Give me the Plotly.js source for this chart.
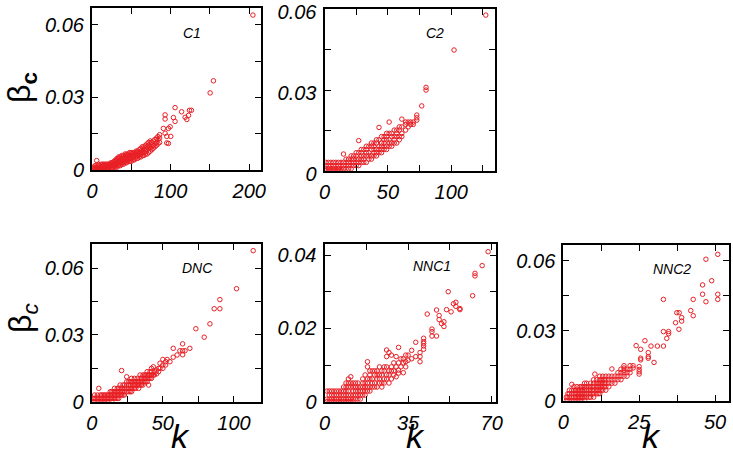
<!DOCTYPE html>
<html>
<head>
<meta charset="utf-8">
<script src="https://cdn.plot.ly/plotly-3.0.1.min.js"></script>
<style>html,body{margin:0;padding:0;background:#fff;}#chart{width:733px;height:457px;}</style>
</head>
<body>
<div id="chart"></div>
<script>
// ---- data: k values and, for each k, the beta_c values seen ----
const C1_k = [2,4,6,8,10,12,14,16,18,20,22,24,26,28,30,32,34,36,38,40,42,44,46,48,50,52,54,56,58,60,62,64,66,68,70,72,74,76,78,80,82,84,86,90.8,93,95.1,97.2,99.4,100.2,103.6,105.7,114,118.5,120.6,122.8,124,126.5,150.3,154.5,204.7];
const C1_beta = [
 [0,0.0006,0.0012],[0,0.0006,0.0012,0.0018],[0,0.0012,0.0039],[0,0.0006,0.0018,0.0024],[0,0.0006,0.0012,0.0018],
 [0,0.0006,0.0012,0.0024],[0,0.0006,0.0018,0.0024],[0,0.0006,0.0012,0.0018,0.0024],[0,0.0012,0.0024],[0,0.0006,0.0012,0.0018,0.0024],
 [0.0006,0.0012,0.0018,0.0024],[0.0006,0.0018,0.0024,0.003],[0.0006,0.0012,0.0024,0.003],[0.0012,0.0018,0.003,0.0036],[0.0012,0.0018,0.0024,0.0036,0.0042],
 [0.0012,0.0024,0.003,0.0042,0.0048],[0.0018,0.0024,0.0036,0.0048,0.0054],[0.0018,0.003,0.0036,0.0042,0.0054],[0.0024,0.003,0.0042,0.0048,0.006],[0.0024,0.0036,0.0042,0.0054,0.006],
 [0.003,0.0036,0.0048,0.0054,0.0066],[0.003,0.0042,0.0048,0.006,0.0066],[0.0036,0.0042,0.0054,0.006,0.0066],[0.0036,0.0048,0.0054,0.006,0.0072],[0.0036,0.0048,0.006,0.0066,0.0072],
 [0.0042,0.0054,0.006,0.0072],[0.0042,0.0054,0.0066,0.0072],[0.0048,0.006,0.0066,0.0078],[0.0048,0.006,0.0072,0.0078],[0.0054,0.0066,0.0072,0.0084],
 [0.0054,0.0066,0.0078,0.009],[0.006,0.0072,0.0084,0.0096],[0.006,0.0072,0.0084,0.0096],[0.0066,0.0078,0.009,0.0102],[0.0066,0.0084,0.0096,0.0108],
 [0.0072,0.009,0.0102,0.0114],[0.0078,0.009,0.0108,0.012],[0.0084,0.0096,0.0114],[0.009,0.0102,0.012],[0.0096,0.0108,0.0126],
 [0.0102,0.0114,0.0132],[0.0108,0.0126,0.0138],[0.0114,0.0132,0.0146],[0.0172],[0.0152,0.0211,0.0228],
 [0.0112,0.0139],[0.011,0.0172],[0.0179],[0.0139],[0.0217],[0.0201,0.0258],[0.0241],[0.0218],[0.0209],[0.0226],[0.0247],[0.0247],[0.0319],[0.0369],[0.0641]
];

const C2_k = [1,3,5,7,9,11,13,15,17,19,21,23,25,27,29,31,33,35,37,39,41,43,45,47,49,51,53,55,57,59,61,64,66,68,70,72.8,76.7,80.1,102.2,127.2];
const C2_beta = [
 [0,0.0007,0.0019,0.0031],[0,0.0007,0.0019,0.0031],[0,0.0007,0.0019,0.0031],[0,0.0007,0.0019,0.0031],[0,0.0007,0.0019,0.0031],
 [0,0.0007,0.0019,0.0031],[0,0.0007,0.0019,0.0031],[0.0007,0.0019,0.0031,0.0062],[0.0007,0.0019,0.0031,0.0043],[0.0007,0.0019,0.0031,0.0043],
 [0.0007,0.0019,0.0031,0.0043,0.0055],[0.0019,0.0031,0.0043,0.0055],[0.0019,0.0031,0.0043,0.0055,0.0067],[0.0019,0.0031,0.0043,0.0067,0.0112],[0.0031,0.0043,0.0055,0.0067,0.0079],
 [0.0031,0.0043,0.0055,0.0079],[0.0031,0.0055,0.0067,0.0079,0.0091],[0.0043,0.0055,0.0067,0.0091],[0.0043,0.0055,0.0079,0.0091,0.0103],[0.0055,0.0067,0.0079,0.0091,0.0103],
 [0.0055,0.0067,0.0079,0.0103,0.0115],[0.0067,0.0079,0.0091,0.0115,0.0161],[0.0067,0.0079,0.0091,0.0103,0.0127],[0.0079,0.0091,0.0103,0.0115,0.0127],[0.0079,0.0091,0.0115,0.0127,0.0139],
 [0.0091,0.0103,0.0115,0.0139,0.0181],[0.0091,0.0103,0.0127,0.0139],[0.0103,0.0115,0.0127,0.0151],[0.0103,0.0127,0.0139,0.0151],[0.0115,0.0127,0.0151,0.0163],
 [0.0127,0.0139,0.0163,0.0192],[0.0151,0.0172,0.0181],[0.0163,0.0181],[0.0172,0.0181],[0.0172,0.0181],
 [0.0188,0.0197,0.0207],[0.0241],[0.030,0.031],[0.0449],[0.0579]
];

const DNC_k = [1,2,3,4,5,6,7,8,9,10,11,12,13,14,15,16,17,18,19,20,21,22,23,24.6,26,27,28,29,30,31,32,33,34,35,36,37,38,39,40,41,42,43.3,44,45.6,47,48,50,52,53,55,57.3,60,62,63.9,65.6,69,73.2,79.1,83.1,86.1,90.1,101.8,113.5];
const DNC_beta = [
 [0,0.0015],[0,0.0015,0.003],[0,0.0015],[0,0.0015,0.003],[0,0.0015,0.006],[0,0.0015,0.003],[0,0.0015,0.003],[0,0.0015,0.003],
 [0,0.0015,0.003],[0,0.0015,0.003],[0,0.0015,0.003],[0,0.0015,0.003],[0.0015,0.003,0.0045],[0,0.0015,0.003,0.0045],[0.0015,0.003,0.0045],
 [0.0015,0.003,0.0045,0.006],[0.0015,0.003,0.0045],[0.0015,0.003,0.0045,0.006],[0.0015,0.003,0.0045,0.006],[0.003,0.0045,0.006,0.0075],
 [0.003,0.0045,0.006,0.014],[0.003,0.0045,0.006,0.0075],[0.003,0.0045,0.006,0.0075],[0.0045,0.006,0.0075,0.009,0.0112],[0.0045,0.006,0.0075,0.009],
 [0.0045,0.006,0.0075,0.009],[0.0045,0.006,0.009,0.0105],[0.006,0.0075,0.009],[0.006,0.0075,0.009,0.0105],[0.006,0.0075,0.009],
 [0.0075,0.009,0.0105],[0.006,0.0075,0.009],[0.0075,0.009,0.0105,0.012],[0.0075,0.009,0.0105],[0.0075,0.009,0.0105,0.012],
 [0.009,0.0105,0.012],[0.009,0.0105,0.012],[0.009,0.0105,0.012,0.0135],[0.0075,0.0105,0.012],[0.0105,0.012,0.0135],
 [0.0105,0.012,0.0135,0.015],[0.012,0.0157],[0.012,0.0135],[0.0125,0.0142],[0.0135,0.015],[0.015,0.0173],
 [0.015,0.0165,0.019],[0.0165,0.018],[0.019],[0.018],[0.02,0.024],[0.021],[0.0229],[0.0211,0.0229,0.026],[0.0229],[0.024],
 [0.0328],[0.029],[0.035],[0.0418],[0.0418,0.0459],[0.0508],[0.0679]
];

const NNC1_k = [1,2,3,4,5,6,7,8,9,10,11,12,13,14,15,16,17,18,19,20,21,22,23,24,25,26,27,28,29,30,31,32,33,34,35,36.5,38.2,40,41.5,43,45,46.9,48,49,50,51.1,51.8,53,54,55,56.7,62,63,66,68.5];
const NNC1_beta = [
 [0,0.0007,0.0029],[0,0.0007,0.0018,0.0029],[0,0.0007,0.0018,0.0029],[0,0.0007,0.0018,0.0029],[0,0.0007,0.0018,0.0029],
 [0,0.0007,0.0018,0.0029],[0,0.0007,0.0018,0.0029],[0,0.0007,0.0018,0.0029,0.004],[0,0.0007,0.0018,0.0029,0.004,0.0051],[0,0.0007,0.0018,0.0029,0.004,0.0051,0.0062],
 [0,0.0007,0.0018,0.004,0.0051,0.0068],[0,0.0007,0.0018,0.0029,0.004,0.0051],[0.0007,0.0018,0.0029,0.004,0.0051],[0.0007,0.0018,0.0029,0.004,0.0051],[0.0007,0.0018,0.0029,0.004],
 [0.0018,0.0029,0.004,0.0051,0.0062],[0.0018,0.0029,0.004,0.0051,0.0073],[0.0029,0.004,0.0051,0.0062,0.0095,0.0109],[0.0029,0.004,0.0062,0.0073,0.0084],[0.004,0.0051,0.0062,0.0084],
 [0.004,0.0051,0.0073,0.0084],[0.004,0.0062,0.0073,0.0084],[0.0051,0.0062,0.0073,0.0095],[0.004,0.0051,0.0073,0.0084],[0.0051,0.0062,0.0084,0.0095],
 [0.0062,0.0073,0.0095,0.0123,0.0141],[0.0051,0.0073,0.0084,0.0134],[0.0062,0.0084,0.0095,0.0127],[0.0073,0.0084,0.0106],[0.0068,0.0095,0.0123],
 [0.0078,0.0086,0.0106,0.0148],[0.0095,0.0117],[0.0079,0.0106,0.0117],[0.0095,0.0109,0.0127],[0.0113,0.0127],
 [0.0117,0.014],[0.0123,0.0162],[0.0109,0.0123,0.0134],[0.0143,0.0152,0.0159,0.0164,0.0173],[0.0239],
 [0.0179,0.0191,0.0198],[0.0179,0.025],[0.0224,0.0235],[0.0213],[0.0205,0.0218],[0.0251],[0.030],[0.0245],[0.0267],[0.026,0.0271],[0.0251,0.0254],
 [0.0289],[0.0343,0.035],[0.0371],[0.0409]
];

const NNC2_k = [1,1.5,2,2.8,3.5,4,4.5,5,5.5,6,6.5,7,7.7,8.5,9,9.5,10,10.4,11,11.5,12,12.5,13,13.5,14,15,16,17,18,19,20,21,22,23,24,25,25.5,26.9,28,28.9,29.9,31,33,34.1,34.7,37,37.4,38.1,38.2,39,42,42.8,45.9,47,48.9,50.9];
const NNC2_beta = [
 [0,0.0015],[0,0.0015,0.003],[0,0.0015,0.003,0.0045],[0,0.0015,0.003,0.0045,0.007],[0,0.0015,0.003,0.0045,0.006],
 [0,0.0015,0.003,0.0045],[0,0.0015,0.003,0.0045,0.006],[0,0.0015,0.003,0.0045],[0,0.0015,0.003,0.0045,0.006],[0,0.0015,0.003,0.0045,0.006],
 [0.0015,0.003,0.0045,0.006],[0,0.0015,0.003,0.0045,0.006,0.0075],[0.0015,0.003,0.0045,0.006,0.0075],[0.0015,0.003,0.0045,0.006],[0.0015,0.003,0.0045,0.006,0.0075],
 [0.003,0.0045,0.006],[0.0015,0.003,0.0045,0.006,0.0075,0.009],[0.0114],[0.003,0.0045,0.006,0.0075,0.009],[0.003,0.0045,0.006,0.0075],
 [0.003,0.0045,0.006,0.0075,0.009,0.0105],[0.0045,0.006,0.0075,0.009],[0.0045,0.006,0.0075,0.009,0.0105],[0.006,0.0075,0.009],[0.0045,0.006,0.0075,0.009,0.0105],
 [0.006,0.0075,0.009,0.0105],[0.0075,0.009,0.0105,0.0136],[0.0075,0.009,0.0105],[0.009,0.0105,0.012],[0.009,0.0105,0.012,0.0135],
 [0.0105,0.012,0.013,0.014,0.015],[0.0105,0.012,0.0135],[0.012,0.0135,0.015],[0.014,0.015],[0.0236],
 [0.0114,0.0124,0.0134,0.0146],[0.0175,0.0182,0.022],[0.0257],[0.0182,0.0189,0.0206],[0.0234],[0.0164],[0.0234],[0.0234,0.0296,0.0434],[0.0267],[0.0287,0.0296],
 [0.0334],[0.0377],[0.0306],[0.0377],[0.0341,0.0356],[0.0386],[0.0364,0.0434],[0.0456,0.0496],[0.0424,0.0606],[0.0514],[0.0434,0.0456,0.0627]
];

// labelled ticks and the step of the unlabelled (minor) ticks
const C1_xt = [0,100,200],   C1_xstep = 50;
const C2_xt = [0,50,100],    C2_xstep = 25;
const DNC_xt = [0,50,100],   DNC_xstep = 25;
const NNC1_xt = [0,35,70],   NNC1_xstep = 17.5;
const NNC2_xt = [0,25,50],   NNC2_xstep = 12.5;
const Y6_t = [0,0.03,0.06],  Y6_l = ['0','0.03','0.06'], Y6_step = 0.015;
const Y4_t = [0,0.02,0.04],  Y4_l = ['0','0.02','0.04'], Y4_step = 0.01;

// ---- drawing ----
const W = 733, H = 457;
const FONT = 'Liberation Sans, Arial, Helvetica, sans-serif';
function flat(ks, bs){ const x=[],y=[]; ks.forEach((k,i)=>bs[i].forEach(b=>{x.push(k);y.push(b);})); return {x,y}; }
function trace(ks, bs, n){
  const d = flat(ks, bs);
  return {type:'scatter', mode:'markers', x:d.x, y:d.y, xaxis:'x'+(n===1?'':n), yaxis:'y'+(n===1?'':n),
    marker:{symbol:'circle-open', size:4.5, color:'rgb(232,32,38)', line:{width:1, color:'rgb(232,32,38)'}},
    showlegend:false, hoverinfo:'skip'};
}
function axis(px0, px1, horiz, range, tv, tt, step, anchor, extra){
  const dom = horiz ? [px0/W, px1/W] : [1-px1/H, 1-px0/H];
  return Object.assign({domain:dom, range:range, tickmode:'array', tickvals:tv, ticktext:tt, ticks:'inside', ticklen:6, tickwidth:1,
    tickcolor:'black', showline:true, linewidth:2, linecolor:'black', mirror:'allticks', showgrid:false, zeroline:false,
    minor:{tick0:0, dtick:step, ticks:'inside', ticklen:6, tickwidth:1, tickcolor:'black', showgrid:false},
    anchor:anchor, fixedrange:true, ticklabelstandoff:2, ticklabeloverflow:'allow',
    tickfont:{family:FONT, size:20, color:'black', style:'italic'}}, extra||{});
}
const data = [
  trace(C1_k, C1_beta, 1), trace(C2_k, C2_beta, 2), trace(DNC_k, DNC_beta, 3),
  trace(NNC1_k, NNC1_beta, 4), trace(NNC2_k, NNC2_beta, 5)
];
function ann(text, px, py, size, extra){
  return Object.assign({text:text, xref:'paper', yref:'paper', x:px/W, y:1-py/H, xanchor:'center', yanchor:'middle',
    showarrow:false, font:{family:FONT, size:size, color:'black', style:'italic'}}, extra||{});
}
const lbl = v => String(v);
const layout = {
  width:W, height:H, margin:{l:0,r:0,t:0,b:0}, paper_bgcolor:'white', plot_bgcolor:'white', showlegend:false,
  xaxis:  axis(92, 261, true, [0, 215], C1_xt, C1_xt.map(lbl), C1_xstep, 'y'),
  yaxis:  axis(8.3, 170, false, [0, 0.0669], Y6_t, Y6_l, Y6_step, 'x'),
  xaxis2: axis(324.5, 495, true, [0, 134.5], C2_xt, C2_xt.map(lbl), C2_xstep, 'y2'),
  yaxis2: axis(9.3, 170.7, false, [0, 0.06005], Y6_t, Y6_l, Y6_step, 'x2', {ticklabelshift:3}),
  xaxis3: axis(91.7, 261, true, [0, 119], DNC_xt, DNC_xt.map(lbl), DNC_xstep, 'y3'),
  yaxis3: axis(244, 401.7, false, [0, 0.0709], Y6_t, Y6_l, Y6_step, 'x3'),
  xaxis4: axis(324.5, 496, true, [0, 71.8], NNC1_xt, NNC1_xt.map(lbl), NNC1_xstep, 'y4'),
  yaxis4: axis(244, 401.7, false, [0, 0.043], Y4_t, Y4_l, Y4_step, 'x4'),
  xaxis5: axis(563.3, 729.3, true, [0, 54.7], NNC2_xt, NNC2_xt.map(lbl), NNC2_xstep, 'y5'),
  yaxis5: axis(245, 400.7, false, [0, 0.0667], Y6_t, Y6_l, Y6_step, 'x5'),
  annotations: [
    ann('C1', 192, 33, 14), ann('C2', 435, 33, 14), ann('DNC', 197, 268, 14),
    ann('NNC1', 432, 266, 14), ann('NNC2', 672, 269, 14),
    ann('β<sub><b>c</b></sub>', 22, 88, 32, {textangle:-90, font:{family:FONT, size:32, color:'black', style:'normal'}}),
    ann('β<sub><i>c</i></sub>', 22, 318, 32, {textangle:-90, font:{family:FONT, size:32, color:'black', style:'normal'}}),
    ann('k', 180, 457, 34, {yanchor:'bottom'}), ann('k', 415, 457, 34, {yanchor:'bottom'}), ann('k', 651, 457, 34, {yanchor:'bottom'})
  ]
};
Plotly.newPlot('chart', data, layout, {staticPlot:true, displayModeBar:false});
</script>
</body>
</html>
